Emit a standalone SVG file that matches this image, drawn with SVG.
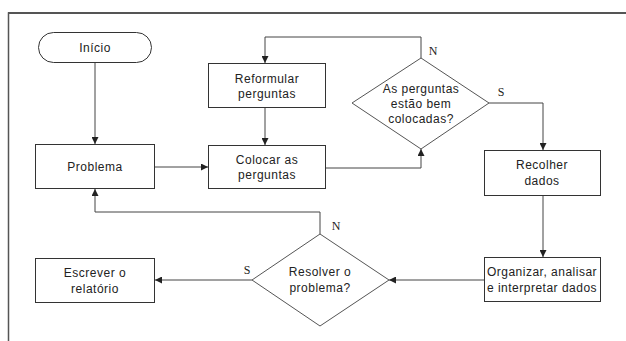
<svg xmlns="http://www.w3.org/2000/svg" width="626" height="341" viewBox="0 0 626 341">
<style>
.box{fill:#fff;stroke:#333;stroke-width:1}
.dia{fill:#fff;stroke:#555;stroke-width:1}
.t{font-family:"Liberation Sans",Arial,sans-serif;font-size:12px;letter-spacing:0.5px;fill:#222;text-anchor:middle}
.lbl{font-family:"Liberation Serif","Times New Roman",serif;font-size:12px;fill:#222;text-anchor:middle}
.c{fill:none;stroke:#444;stroke-width:1}
</style>
<defs>
<marker id="ah" viewBox="0 0 8 8" refX="8" refY="4" markerWidth="7" markerHeight="7" markerUnits="userSpaceOnUse" orient="auto">
<path d="M0,0 L8,4 L0,8 Z" fill="#222"/>
</marker>
</defs>
<rect width="626" height="341" fill="#fff"/>
<g id="frame">
<path d="M8.5,341 V13 H626" fill="none" stroke="#555" stroke-width="1.5"/>
<line x1="8" y1="13" x2="626" y2="13" stroke="#555" stroke-width="2"/>
</g>
<g id="connectors">
<path class="c" d="M95,63 V144" marker-end="url(#ah)"/>
<path class="c" d="M155,167 H208" marker-end="url(#ah)"/>
<path class="c" d="M265,108 V145" marker-end="url(#ah)"/>
<path class="c" d="M421,58 V37 H265 V63" marker-end="url(#ah)"/>
<path class="c" d="M326,168 H421 V149" marker-end="url(#ah)"/>
<path class="c" d="M489,103 H543 V150" marker-end="url(#ah)"/>
<path class="c" d="M543,196 V257" marker-end="url(#ah)"/>
<path class="c" d="M484,280 H389" marker-end="url(#ah)"/>
<path class="c" d="M320,234 V212 H95 V189" marker-end="url(#ah)"/>
<path class="c" d="M252,280 H155" marker-end="url(#ah)"/>
</g>
<g id="inicio">
<rect class="box" x="38.5" y="32.5" width="113" height="30" rx="15" ry="15"/>
<text class="t" x="95" y="52">Início</text>
</g>
<g id="problema">
<rect class="box" x="35.5" y="144.5" width="119" height="44"/>
<text class="t" x="95" y="171">Problema</text>
</g>
<g id="reformular">
<rect class="box" x="208.5" y="63.5" width="117" height="44"/>
<text class="t" x="267" y="83">Reformular</text>
<text class="t" x="267" y="98">perguntas</text>
</g>
<g id="colocar">
<rect class="box" x="208.5" y="145.5" width="117" height="43"/>
<text class="t" x="267" y="164">Colocar as</text>
<text class="t" x="267" y="179">perguntas</text>
</g>
<g id="decisao1">
<polygon class="dia" points="421,58 489,103 421,149 352,103"/>
<text class="t" x="421" y="93">As perguntas</text>
<text class="t" x="421" y="108">estão bem</text>
<text class="t" x="421" y="123">colocadas?</text>
<text class="lbl" x="433" y="55">N</text>
<text class="lbl" x="501" y="96">S</text>
</g>
<g id="recolher">
<rect class="box" x="484.5" y="150.5" width="116" height="45"/>
<text class="t" x="542" y="169">Recolher</text>
<text class="t" x="542" y="185">dados</text>
</g>
<g id="organizar">
<rect class="box" x="484.5" y="257.5" width="116" height="44"/>
<text class="t" x="542" y="276">Organizar, analisar</text>
<text class="t" x="542" y="292">e interpretar dados</text>
</g>
<g id="decisao2">
<polygon class="dia" points="320,234 389,280 320,326 252,280"/>
<text class="t" x="320" y="276">Resolver o</text>
<text class="t" x="320" y="292">problema?</text>
<text class="lbl" x="336" y="230">N</text>
<text class="lbl" x="247" y="274">S</text>
</g>
<g id="escrever">
<rect class="box" x="35.5" y="258.5" width="119" height="44"/>
<text class="t" x="95" y="277">Escrever o</text>
<text class="t" x="95" y="293">relatório</text>
</g>
</svg>
